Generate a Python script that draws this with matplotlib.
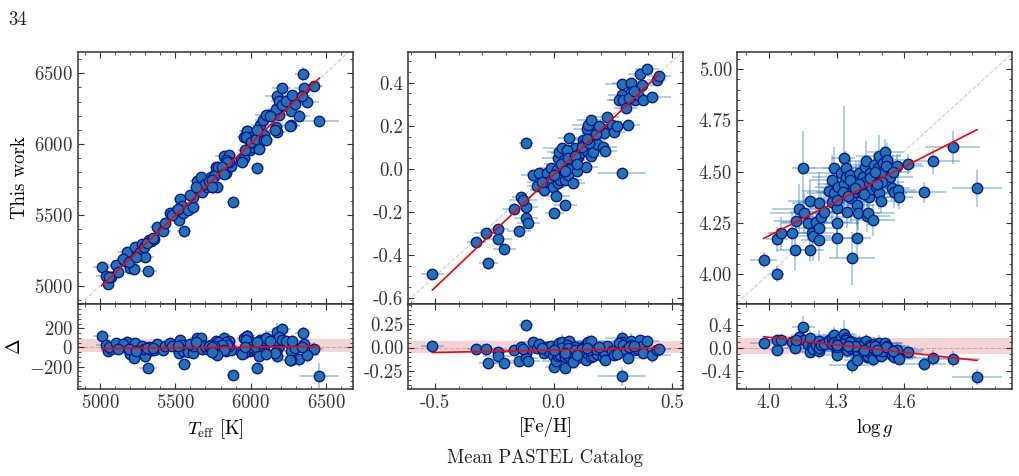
import numpy as np
import matplotlib
matplotlib.use('Agg')
import matplotlib.pyplot as plt
from matplotlib.ticker import AutoMinorLocator, MultipleLocator, FixedLocator

# ---- Teff (catalog vs this work) ----
teff_cat = [5011, 5040, 5049, 5073, 5056, 5104, 5178, 5162, 5200, 5222, 5229, 5262, 5278, 5298, 5293, 5318,
            5322, 5338, 5360, 5378, 5418, 5429, 5467, 5504, 5522, 5533, 5544, 5556, 5551, 5584, 5618, 5618,
            5644, 5667, 5669, 5678, 5711, 5738, 5751, 5773, 5789, 5822, 5836, 5856, 5867, 5858, 5880,
            5150, 5190, 5240, 5310, 5120, 5350, 5480, 5520, 5600, 5700, 5720, 5760, 5800, 5640,
            5833, 5844, 5782, 5811, 5822, 5755, 5744, 5778, 5744,
            5938, 5956, 5973, 5989, 5993, 6004, 6022,
            5978, 5995, 5967, 6005, 6033, 6089, 6089, 6055, 6045, 6062, 6085, 6115, 6100, 6189, 6167, 6173,
            6205, 6189, 6205, 6233, 6267, 6293, 6278, 6322, 6267, 6345, 6356, 6422, 6373, 6340, 6456, 6167,
            6178, 6160, 6100, 6129, 6040, 6264, 5955, 5944, 5960]
teff_this = [5130, 5068, 5009, 5059, 5064, 5146, 5236, 5172, 5127, 5115, 5276, 5238, 5294, 5205, 5272, 5106,
             5323, 5313, 5332, 5412, 5388, 5445, 5511, 5525, 5464, 5615, 5565, 5386, 5516, 5535, 5556, 5629,
             5742, 5765, 5699, 5664, 5699, 5765, 5699, 5841, 5805, 5918, 5794, 5923, 5845, 5876, 5593,
             5190, 5170, 5200, 5300, 5100, 5340, 5500, 5540, 5640, 5720, 5740, 5790, 5800, 5700,
             5886, 5874, 5838, 5838, 5791, 5775, 5744, 5697, 5697,
             5888, 6053, 6095, 6029, 5958, 5982, 6006,
             6093, 6050, 6050, 6014, 6034, 6066, 6027, 5963, 5831, 6137, 6168, 6208, 6203, 6208, 6250, 6340,
             6396, 6302, 6278, 6302, 6232, 6285, 6349, 6198, 6133, 6493, 6396, 6408, 6297, 6340, 6161, 6120,
             6086, 6100, 6029, 6199, 6100, 6130, 5902, 5874, 5960]
teff_cat_err = [60, 70, 45, 55, 40, 50, 60, 40, 45, 50, 40, 45, 35, 60, 40, 60, 35, 40, 40, 45,
                50, 40, 45, 40, 35, 40, 45, 45, 40, 40, 45, 40, 50, 45, 40, 40, 45, 50, 55, 40,
                45, 60, 50, 45, 55, 50, 40,
                40, 45, 40, 45, 50, 40, 40, 45, 40, 45, 40, 50, 45, 40,
                45, 50, 40, 55, 45, 40, 50, 45, 40,
                40, 45, 50, 45, 40, 45, 40,
                50, 60, 45, 55, 50, 45, 60, 50, 45, 60, 55, 60, 70, 50, 55, 80, 60, 55, 60, 50,
                65, 60, 55, 70, 60, 50, 70, 60, 80, 55, 130, 50, 60, 55, 50, 60, 45, 65, 50, 45, 45]
teff_this_err = [25, 30, 20, 25, 20, 25, 30, 20, 25, 20, 25, 20, 25, 30, 20, 25, 20, 25, 20, 25,
                 30, 25, 20, 25, 20, 30, 25, 25, 20, 25, 20, 25, 30, 25, 20, 25, 20, 25, 30, 25,
                 20, 30, 25, 25, 30, 25, 25,
                 20, 25, 20, 25, 20, 25, 20, 25, 20, 25, 20, 25, 20, 25,
                 25, 20, 30, 25, 20, 25, 20, 25, 30,
                 25, 30, 25, 20, 25, 30, 25,
                 30, 25, 35, 30, 25, 30, 35, 30, 25, 30, 35, 30, 30, 25, 40, 35, 30, 40, 30, 35,
                 30, 35, 25, 40, 30, 50, 35, 30, 35, 30, 40, 30, 35, 30, 25, 35, 30, 35, 25, 30, 25]

# ---- [Fe/H] ----
feh_cat = [-0.511, -0.327, -0.286, -0.275, -0.236, -0.236, -0.207, -0.168, -0.147, -0.137,
           -0.117, -0.117, -0.117, -0.106, -0.130, -0.088, -0.071, -0.060, -0.040, -0.029,
           -0.022, -0.012, -0.001, 0.002, 0.011, 0.013, 0.020, 0.020, 0.023, 0.027,
           0.034, 0.039, 0.046, 0.050, 0.050, 0.060, 0.067, 0.070, 0.077, 0.084,
           0.091, 0.098, 0.101, 0.112, 0.123, 0.130, 0.137, 0.140, 0.143, 0.147,
           0.157, 0.157, 0.168, 0.171, 0.179, 0.182, 0.207, 0.207, 0.213, 0.217,
           0.224, 0.245, 0.255, 0.267, 0.288, 0.288, 0.288, 0.276, 0.295, 0.307,
           0.316, 0.326, 0.326, 0.330, 0.344, 0.358, 0.365, 0.372, 0.379, 0.393,
           0.414, 0.435, 0.445,
           0.056, 0.084, 0.03, 0.06, 0.09, 0.12, 0.15, 0.18, 0.10, 0.05, -0.05, 0.00, 0.14, 0.19, 0.32, 0.34]
feh_this = [-0.490, -0.340, -0.301, -0.437, -0.281, -0.329, -0.371, -0.189, -0.290, -0.130,
            0.121, -0.177, -0.228, -0.250, -0.146, -0.029, -0.081, -0.019, -0.099, -0.022,
            -0.060, 0.002, -0.084, -0.208, -0.127, -0.006, -0.068, 0.048, 0.076, -0.053,
            0.098, 0.002, 0.043, -0.053, -0.169, -0.029, 0.141, 0.071, 0.009, 0.040,
            0.095, -0.009, 0.056, 0.071, 0.133, 0.115, 0.009, 0.183, 0.084, 0.203,
            0.229, 0.059, 0.079, 0.133, 0.164, 0.115, 0.102, 0.183, 0.167, 0.084,
            0.242, 0.203, 0.172, 0.198, -0.019, 0.392, 0.343, 0.322, 0.319, 0.281,
            0.203, 0.400, 0.358, 0.338, 0.322, 0.343, 0.440, 0.389, 0.322, 0.462,
            0.332, 0.412, 0.431,
            0.087, -0.068, 0.02, 0.05, 0.06, 0.10, 0.12, 0.16, 0.02, -0.01, -0.06, -0.03, 0.14, 0.20, 0.33, 0.36]
feh_cat_err = [0.05, 0.04, 0.05, 0.04, 0.05, 0.06, 0.05, 0.05, 0.05, 0.04,
               0.03, 0.05, 0.05, 0.05, 0.06, 0.05, 0.04, 0.05, 0.06, 0.05,
               0.06, 0.05, 0.05, 0.04, 0.06, 0.08, 0.06, 0.07, 0.05, 0.06,
               0.08, 0.06, 0.05, 0.07, 0.05, 0.06, 0.05, 0.08, 0.06, 0.05,
               0.07, 0.05, 0.06, 0.05, 0.06, 0.05, 0.05, 0.06, 0.05, 0.07,
               0.06, 0.05, 0.07, 0.05, 0.06, 0.05, 0.06, 0.05, 0.06, 0.05,
               0.05, 0.06, 0.05, 0.05, 0.10, 0.07, 0.06, 0.05, 0.06, 0.05,
               0.05, 0.08, 0.06, 0.05, 0.06, 0.05, 0.05, 0.06, 0.05, 0.05,
               0.08, 0.04, 0.05,
               0.06, 0.05, 0.07, 0.06, 0.05, 0.06, 0.05, 0.06, 0.05, 0.07, 0.06, 0.05, 0.06, 0.05, 0.06, 0.05]
feh_this_err = [0.02, 0.01, 0.02, 0.02, 0.01, 0.02, 0.02, 0.01, 0.02, 0.02,
                0.02, 0.01, 0.02, 0.02, 0.01, 0.02, 0.02, 0.01, 0.02, 0.02,
                0.01, 0.02, 0.02, 0.01, 0.02, 0.03, 0.02, 0.01, 0.02, 0.02,
                0.02, 0.01, 0.02, 0.02, 0.01, 0.02, 0.02, 0.01, 0.02, 0.02,
                0.02, 0.01, 0.02, 0.02, 0.01, 0.02, 0.02, 0.01, 0.02, 0.02,
                0.01, 0.02, 0.02, 0.01, 0.02, 0.02, 0.01, 0.02, 0.02, 0.01,
                0.02, 0.02, 0.01, 0.02, 0.02, 0.02, 0.01, 0.02, 0.02, 0.01,
                0.02, 0.02, 0.01, 0.02, 0.02, 0.01, 0.02, 0.02, 0.01, 0.02,
                0.02, 0.01, 0.02,
                0.02, 0.01, 0.02, 0.02, 0.01, 0.02, 0.02, 0.01, 0.02, 0.02, 0.01, 0.02, 0.02, 0.01, 0.02, 0.02]

# ---- log g ----
logg_cat = [3.978, 4.037, 4.037, 4.056, 4.104, 4.115, 4.134, 4.154, 4.156, 4.122,
            4.174, 4.184, 4.184, 4.191, 4.196, 4.210, 4.222, 4.222, 4.222, 4.232,
            4.243, 4.269, 4.281, 4.291, 4.281, 4.291, 4.301, 4.301, 4.301, 4.306,
            4.318, 4.331, 4.332, 4.340, 4.343, 4.347, 4.357, 4.360, 4.365, 4.369,
            4.372, 4.384, 4.387, 4.390, 4.394, 4.391, 4.401, 4.404, 4.413, 4.416,
            4.424, 4.428, 4.431, 4.435, 4.438, 4.443, 4.446, 4.453, 4.457, 4.460,
            4.468, 4.475, 4.482, 4.487, 4.490, 4.497, 4.504, 4.507, 4.516, 4.522,
            4.526, 4.538, 4.546, 4.553, 4.566, 4.571, 4.578, 4.616, 4.685, 4.725,
            4.813, 4.921,
            4.33, 4.36, 4.40, 4.45, 4.47, 4.50, 4.42, 4.38, 4.35, 4.30, 4.52, 4.55, 4.48]
logg_this = [4.070, 4.000, 4.171, 4.200, 4.200, 4.119, 4.319, 4.520, 4.298, 4.260,
             4.249, 4.359, 4.119, 4.200, 4.187, 4.257, 4.350, 4.167, 4.228, 4.281,
             4.306, 4.407, 4.460, 4.520, 4.354, 4.395, 4.249, 4.179, 4.322, 4.428,
             4.493, 4.569, 4.441, 4.520, 4.476, 4.306, 4.398, 4.485, 4.371, 4.078,
             4.436, 4.452, 4.403, 4.338, 4.298, 4.179, 4.493, 4.420, 4.395, 4.476,
             4.522, 4.452, 4.550, 4.285, 4.298, 4.379, 4.493, 4.415, 4.473, 4.265,
             4.533, 4.428, 4.517, 4.579, 4.398, 4.358, 4.541, 4.493, 4.598, 4.558,
             4.522, 4.476, 4.420, 4.403, 4.528, 4.411, 4.379, 4.538, 4.400, 4.550,
             4.620, 4.420,
             4.40, 4.46, 4.44, 4.47, 4.50, 4.45, 4.39, 4.42, 4.38, 4.36, 4.53, 4.50, 4.44]
logg_cat_err = [0.06, 0.03, 0.05, 0.06, 0.10, 0.08, 0.12, 0.05, 0.15, 0.10,
                0.12, 0.10, 0.06, 0.10, 0.08, 0.15, 0.12, 0.08, 0.10, 0.12,
                0.15, 0.12, 0.10, 0.10, 0.15, 0.12, 0.10, 0.07, 0.12, 0.10,
                0.15, 0.05, 0.12, 0.10, 0.15, 0.10, 0.12, 0.08, 0.15, 0.10,
                0.12, 0.10, 0.15, 0.08, 0.10, 0.06, 0.12, 0.10, 0.15, 0.08,
                0.10, 0.12, 0.08, 0.10, 0.12, 0.15, 0.10, 0.08, 0.12, 0.10,
                0.12, 0.10, 0.08, 0.10, 0.12, 0.08, 0.10, 0.06, 0.08, 0.10,
                0.12, 0.10, 0.08, 0.10, 0.12, 0.08, 0.06, 0.06, 0.10, 0.12,
                0.12, 0.11,
                0.12, 0.10, 0.15, 0.10, 0.12, 0.10, 0.12, 0.15, 0.10, 0.12, 0.10, 0.08, 0.10]
logg_this_err = [0.04, 0.04, 0.06, 0.08, 0.10, 0.10, 0.12, 0.18, 0.10, 0.08,
                 0.08, 0.10, 0.06, 0.10, 0.12, 0.08, 0.15, 0.10, 0.08, 0.12,
                 0.10, 0.08, 0.12, 0.10, 0.10, 0.08, 0.08, 0.10, 0.12, 0.10,
                 0.08, 0.25, 0.10, 0.08, 0.10, 0.08, 0.10, 0.08, 0.12, 0.13,
                 0.08, 0.10, 0.08, 0.10, 0.08, 0.10, 0.06, 0.08, 0.10, 0.08,
                 0.06, 0.08, 0.10, 0.08, 0.06, 0.10, 0.08, 0.06, 0.08, 0.08,
                 0.06, 0.08, 0.06, 0.10, 0.08, 0.06, 0.08, 0.06, 0.06, 0.08,
                 0.06, 0.08, 0.06, 0.08, 0.06, 0.08, 0.06, 0.05, 0.05, 0.06,
                 0.08, 0.09,
                 0.08, 0.10, 0.08, 0.06, 0.08, 0.10, 0.08, 0.08, 0.10, 0.08, 0.06, 0.08, 0.08]

# linear fits (slope, intercept) as drawn in the figure
fit_slope = [1.014, 1.049, 0.5625]
fit_icpt = [-81.0, -0.028, 1.937]

# scatter band (mean +- std of residuals)
band_lo = [-50, -0.062, -0.10]
band_hi = [88, 0.069, 0.18]

xlabels = [r'$T_{\rm eff}$ [K]', '[Fe/H]', r'$\log g$']

plt.rcParams.update({
    'font.family': 'serif',
    'font.serif': ['cmr10', 'DejaVu Serif'],
    'mathtext.fontset': 'cm',
    'axes.formatter.use_mathtext': True,
    'font.size': 13.5,
    'xtick.direction': 'in',
    'ytick.direction': 'in',
    'xtick.top': True,
    'ytick.right': True,
    'xtick.minor.visible': True,
    'ytick.minor.visible': True,
    'xtick.major.size': 4,
    'ytick.major.size': 4,
    'xtick.minor.size': 2,
    'ytick.minor.size': 2,
    'axes.linewidth': 1.1,
    'axes.edgecolor': '#333333',
    'text.color': '#222222',
    'xtick.color': '#333333',
    'ytick.color': '#333333',
})

fig = plt.figure(figsize=(10.2, 4.76), dpi=100)

panels = [
    (teff_cat, teff_this, teff_cat_err, teff_this_err),
    (feh_cat, feh_this, feh_cat_err, feh_this_err),
    (logg_cat, logg_this, logg_cat_err, logg_this_err),
]
lefts = [78, 408, 737]
xlims = [(4853, 6680), (-0.614, 0.546), (3.86, 5.076)]
ylims = [(4871, 6650), (-0.629, 0.543), (3.855, 5.084)]
rlims = [(-435, 455), (-0.441, 0.463), (-0.713, 0.765)]
rticks = [[-200, 0, 200], [-0.25, 0.0, 0.25], [-0.4, 0.0, 0.4]]

ecol = (0.12, 0.47, 0.71, 0.42)
face = '#2272b4'
edge = '#0b1a8a'

for i, (xc, yt, xe, ye) in enumerate(panels):
    xc = np.array(xc)
    yt = np.array(yt)
    xe = np.array(xe)
    ye = np.array(ye)
    resid = yt - xc
    rerr = np.hypot(xe, ye)

    ax = fig.add_axes([lefts[i] / 1020, 172 / 476, 275 / 1020, 252 / 476])
    axr = fig.add_axes([lefts[i] / 1020, 87 / 476, 275 / 1020, 85 / 476], sharex=ax)

    # top: this work vs catalog
    ax.axline((xc[0], xc[0]), slope=1, ls='--', color='0.8', lw=0.8, zorder=0)
    ax.errorbar(xc, yt, xerr=xe, yerr=ye, fmt='none', ecolor=ecol, elinewidth=1.2, zorder=1)
    ax.plot(xc, yt, 'o', mfc=face, mec=edge, ms=7.5, mew=1.0, zorder=3)
    xx = np.array([xc.min(), xc.max()])
    fit = fit_slope[i] * xx + fit_icpt[i]
    ax.plot(xx, fit, color='red', lw=1.2, zorder=4)
    ax.set_xlim(*xlims[i])
    ax.set_ylim(*ylims[i])
    ax.tick_params(labelbottom=False)

    # bottom: residuals
    axr.axhspan(band_lo[i], band_hi[i], color='tab:red', alpha=0.2, lw=0, zorder=0)
    axr.axhline(0, ls='--', color='0.7', lw=0.8, zorder=0)
    axr.errorbar(xc, resid, xerr=xe, yerr=rerr, fmt='none', ecolor=ecol, elinewidth=1.2, zorder=1)
    axr.plot(xc, resid, 'o', mfc=face, mec=edge, ms=7.5, mew=1.0, zorder=3)
    axr.plot(xx, fit - xx, color='red', lw=1.2, zorder=4)
    axr.set_ylim(*rlims[i])
    axr.yaxis.set_major_locator(FixedLocator(rticks[i]))
    axr.set_xlabel(xlabels[i])

    if i == 0:
        ax.yaxis.set_major_locator(MultipleLocator(500))
        ax.xaxis.set_major_locator(MultipleLocator(500))
        ax.set_ylabel('This work')
        axr.set_ylabel(r'$\Delta$')
    elif i == 1:
        ax.yaxis.set_major_locator(MultipleLocator(0.2))
        ax.xaxis.set_major_locator(MultipleLocator(0.5))
        axr.yaxis.set_major_formatter(plt.FormatStrFormatter('%.2f'))
        axr.xaxis.set_major_formatter(plt.FormatStrFormatter('%.1f'))
        ax.yaxis.set_major_formatter(plt.FormatStrFormatter('%.1f'))
    else:
        ax.yaxis.set_major_locator(MultipleLocator(0.25))
        ax.xaxis.set_major_locator(FixedLocator([4.0, 4.3, 4.6]))
        ax.xaxis.set_minor_locator(MultipleLocator(0.1))
        ax.yaxis.set_major_formatter(plt.FormatStrFormatter('%.2f'))
        axr.xaxis.set_major_formatter(plt.FormatStrFormatter('%.1f'))
        axr.yaxis.set_major_formatter(plt.FormatStrFormatter('%.1f'))
    ax.yaxis.set_minor_locator(AutoMinorLocator())
    axr.yaxis.set_minor_locator(MultipleLocator([50, 0.05, 0.1][i]))

fig.text(8 / 1020, 1 - 20 / 476, '34', va='center', ha='left', fontsize=13.5)
fig.text(545 / 1020, 1 - 458 / 476, 'Mean PASTEL Catalog', va='center', ha='center', fontsize=13.5)

fig.savefig('out.png', dpi=100)
